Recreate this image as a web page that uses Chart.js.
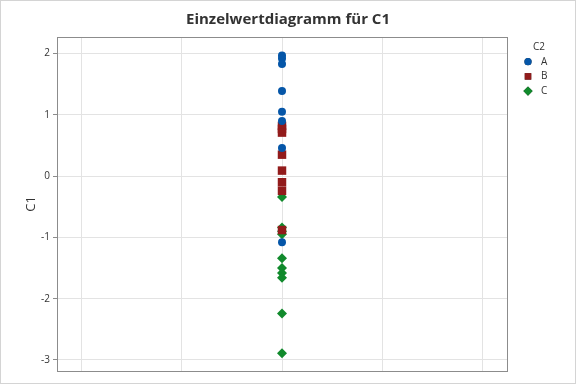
<!DOCTYPE html>
<html>
<head>
<meta charset="utf-8">
<script src="https://cdn.jsdelivr.net/npm/chart.js@4"></script>
<style>
  html, body { margin: 0; padding: 0; background: #fff; }
  #wrap { width: 576px; height: 384px; position: relative; }
</style>
</head>
<body>
<div id="wrap"><canvas id="graph"></canvas></div>
<script>
// values, one column per group of C2
const groupNames = ["A", "B", "C"];
const valuesA = [1.97, 1.92, 1.83, 1.39, 1.05, 0.90, 0.46, -1.08];
const valuesB = [0.82, 0.77, 0.71, 0.35, 0.09, -0.10, -0.24, -0.88];
const valuesC = [-0.34, -0.84, -0.90, -0.95, -1.34, -1.50, -1.58, -1.66, -2.24, -2.89];
const xTicks = [1, 2, 3, 4, 5];
const yTicks = [-3, -2, -1, 0, 1, 2];
const column = 3; // all points sit on the middle grid line

const ctx = document.getElementById("graph").getContext('2d');

function toPoints(arr) {
    return arr.map(v => ({ x: column, y: v }));
}

// light frame round the page and dark box round the plot
const frames = {
    id: 'frames',
    beforeDraw(chart) {
        const c = chart.ctx;
        c.save();
        c.fillStyle = '#fff';
        c.fillRect(0, 0, chart.width, chart.height);
        c.strokeStyle = '#d4d4d4';
        c.lineWidth = 1;
        c.strokeRect(0.5, 0.5, chart.width - 1, chart.height - 1);
        c.restore();
    },
    afterDatasetsDraw(chart) {
        const a = chart.chartArea;
        const c = chart.ctx;
        c.save();
        c.strokeStyle = '#8c8c8c';
        c.lineWidth = 1;
        c.strokeRect(Math.round(a.left) + 0.5, Math.round(a.top) + 0.5,
            Math.round(a.right - a.left), Math.round(a.bottom - a.top));
        c.restore();
    }
};

// legend sits in the right margin, like minitab puts it
const sideLegend = {
    id: 'sideLegend',
    afterDraw(chart) {
        const c = chart.ctx;
        const a = chart.chartArea;
        const x0 = a.right + 21;
        let y = a.top + 10;
        c.save();
        c.fillStyle = '#333';
        c.font = '10px "Open Sans"';
        c.textBaseline = 'middle';
        c.textAlign = 'left';
        c.fillText('C2', x0 + 5, y);
        chart.data.datasets.forEach(ds => {
            y += 14.7;
            Chart.helpers.drawPoint(c, {
                pointStyle: ds.pointStyle,
                radius: ds.pointStyle === 'circle' ? 3.6 : 4.6,
                borderWidth: 0
            }, x0, y);
            c.fillStyle = ds.backgroundColor;
            c.fill();
            c.fillStyle = '#333';
            c.fillText(ds.label, x0 + 13, y);
        });
        c.restore();
    }
};

const dataChart = new Chart(ctx, {
    type: 'scatter',
    data: {
        datasets: [
            {
                label: groupNames[0],
                data: toPoints(valuesA),
                pointStyle: 'circle',
                pointRadius: 4,
                backgroundColor: '#0556a8',
                borderColor: '#0556a8',
                borderWidth: 0
            },
            {
                label: groupNames[1],
                data: toPoints(valuesB),
                pointStyle: 'rect',
                pointRadius: 6,
                backgroundColor: '#921b1b',
                borderColor: '#921b1b',
                borderWidth: 0
            },
            {
                label: groupNames[2],
                data: toPoints(valuesC),
                pointStyle: 'rectRot',
                pointRadius: 5,
                backgroundColor: '#118a2c',
                borderColor: '#118a2c',
                borderWidth: 0
            }
        ]
    },
    options: {
        responsive: true,
        maintainAspectRatio: false,
        devicePixelRatio: 1,
        animation: false,
        layout: {
            padding: { left: 0, right: 0, top: 0, bottom: 13 }
        },
        plugins: {
            title: {
                display: true,
                text: 'Einzelwertdiagramm für C1',
                color: '#333',
                font: { family: 'Open Sans', size: 15, weight: 'bold' },
                padding: { top: 11, bottom: 8 }
            },
            legend: { display: false },
            tooltip: { enabled: false }
        },
        scales: {
            x: {
                type: 'linear',
                min: 0.76,
                max: 5.24,
                afterBuildTicks: (scale) => { scale.ticks = xTicks.map(v => ({ value: v })); },
                ticks: { display: false },
                grid: { color: '#e3e3e3', drawTicks: false },
                border: { display: false }
            },
            y: {
                min: -3.18,
                max: 2.27,
                afterBuildTicks: (scale) => { scale.ticks = yTicks.map(v => ({ value: v })); },
                afterFit: (scale) => { scale.width = 57; },
                ticks: {
                    color: '#333',
                    padding: 3,
                    font: { family: 'Open Sans', size: 10 }
                },
                grid: { color: '#e3e3e3', tickLength: 4, tickColor: '#8c8c8c' },
                border: { display: false },
                title: {
                    display: true,
                    text: 'C1',
                    color: '#333',
                    font: { family: 'Open Sans', size: 13 },
                    padding: { top: 23, bottom: 0 }
                }
            },
            // empty axis on the right that keeps room for the legend
            side: {
                position: 'right',
                afterFit: (scale) => { scale.width = 69; },
                ticks: { display: false },
                grid: { display: false },
                border: { display: false }
            }
        }
    },
    plugins: [frames, sideLegend]
});
</script>
</body>
</html>
